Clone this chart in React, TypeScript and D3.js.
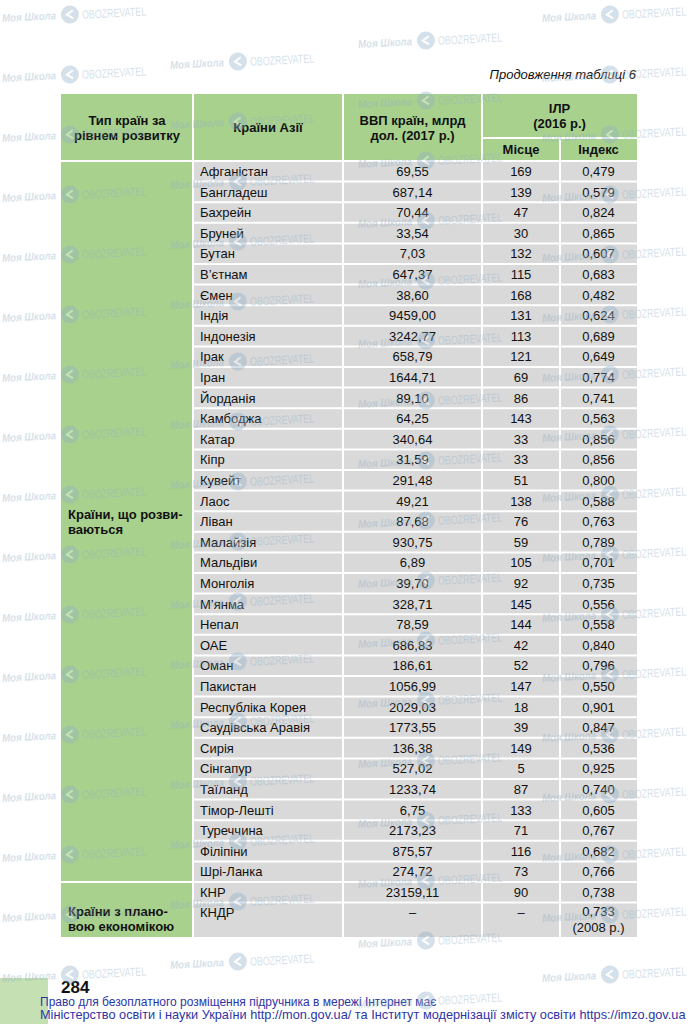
import React from 'react';
import * as d3 from 'd3';

// ---------- DATA ----------
const developingCountries = [
  'Афганістан', 'Бангладеш', 'Бахрейн', 'Бруней', 'Бутан', 'В’єтнам', 'Ємен', 'Індія',
  'Індонезія', 'Ірак', 'Іран', 'Йорданія', 'Камбоджа', 'Катар', 'Кіпр', 'Кувейт', 'Лаос',
  'Ліван', 'Малайзія', 'Мальдіви', 'Монголія', 'М’янма', 'Непал', 'ОАЕ', 'Оман', 'Пакистан',
  'Республіка Корея', 'Саудівська Аравія', 'Сирія', 'Сінгапур', 'Таїланд', 'Тімор-Лешті',
  'Туреччина', 'Філіпіни', 'Шрі-Ланка',
];
const developingGdp = [
  69.55, 687.14, 70.44, 33.54, 7.03, 647.37, 38.6, 9459.0, 3242.77, 658.79, 1644.71, 89.1,
  64.25, 340.64, 31.59, 291.48, 49.21, 87.68, 930.75, 6.89, 39.7, 328.71, 78.59, 686.83,
  186.61, 1056.99, 2029.03, 1773.55, 136.38, 527.02, 1233.74, 6.75, 2173.23, 875.57, 274.72,
];
const developingRank = [
  169, 139, 47, 30, 132, 115, 168, 131, 113, 121, 69, 86, 143, 33, 33, 51, 138, 76, 59, 105,
  92, 145, 144, 42, 52, 147, 18, 39, 149, 5, 87, 133, 71, 116, 73,
];
const developingIndex = [
  0.479, 0.579, 0.824, 0.865, 0.607, 0.683, 0.482, 0.624, 0.689, 0.649, 0.774, 0.741, 0.563,
  0.856, 0.856, 0.8, 0.588, 0.763, 0.789, 0.701, 0.735, 0.556, 0.558, 0.84, 0.796, 0.55, 0.901,
  0.847, 0.536, 0.925, 0.74, 0.605, 0.767, 0.682, 0.766,
];
const plannedCountries = ['КНР', 'КНДР'];
const plannedGdp: (number | null)[] = [23159.11, null];
const plannedRank: (number | null)[] = [90, null];
const plannedIndex = [0.738, 0.733];
const plannedIndexNote = ['', '(2008 р.)'];

const groupLabels = [
  ['Країни, що розви-', 'ваються'],
  ['Країни з плано-', 'вою економікою'],
];
const headerType = ['Тип країн за', 'рівнем розвитку'];
const headerCountries = 'Країни Азії';
const headerGdp = ['ВВП країн, млрд', 'дол. (2017 р.)'];
const headerHdi = ['ІЛР', '(2016 р.)'];
const headerSub = ['Місце', 'Індекс'];
const captionText = 'Продовження таблиці 6';
const pageNumber = '284';
const footerLines = [
  'Право для безоплатного розміщення підручника в мережі Інтернет має',
  'Міністерство освіти і науки України http://mon.gov.ua/ та Інститут модернізації змісту освіти https://imzo.gov.ua',
];

// ---------- LAYOUT ----------
const W = 692;
const H = 1024;
const FONT = '"Liberation Sans", Arial, Helvetica, sans-serif';
const GREEN = '#a9d18e';
const GRAY = '#d9d9d9';
const colEdges = [61, 193, 343, 482, 560, 637];
const headerTop = 94;
const subHeaderY = 138;
const headerBottom = 161;
const devBottom = 882;
const plannedHeights = [20.6, 34.4];

const fmt2 = (v: number | null) => (v == null ? '–' : d3.format('.2f')(v).replace('.', ','));
const fmt3 = (v: number | null) => (v == null ? '–' : d3.format('.3f')(v).replace('.', ','));
const fmtInt = (v: number | null) => (v == null ? '–' : String(v));

function Watermark({ x, y }: { x: number; y: number }) {
  const c = '#8eaec6';
  return (
    <g transform={`translate(${x},${y}) rotate(-3)`} opacity={0.36}>
      <g transform="translate(0,4) scale(0.88,1)">
        <text x={0} y={0} fontSize={11} fontStyle="italic" fontWeight="bold" fill={c} fontFamily={FONT}>Моя Школа</text>
      </g>
      <circle cx={68} cy={0} r={9} fill={c} />
      <path d="M71,-4 L65,0 L71,4" fill="none" stroke="#ffffff" strokeWidth={2} />
      <g transform="translate(80,5) scale(0.74,1)">
        <text x={0} y={0} fontSize={12} fill={c} fontFamily={FONT}>OBOZREVATEL</text>
      </g>
    </g>
  );
}

export default function App() {
  const x = d3.scaleOrdinal<string, number>()
    .domain(['type', 'country', 'gdp', 'rank', 'index', 'end'])
    .range(colEdges);
  const mid = (a: string, b: string) => (x(a) + x(b)) / 2;
  const cxGdp = mid('gdp', 'rank');
  const cxRank = mid('rank', 'index');
  const cxIndex = mid('index', 'end');

  const yDev = d3.scaleBand<number>()
    .domain(d3.range(developingCountries.length))
    .range([headerBottom, devBottom]);
  const plannedCum = Array.from(d3.cumsum(plannedHeights));
  const plannedY = plannedHeights.map((h, i) => devBottom + plannedCum[i] - h);
  const tableBottom = devBottom + plannedCum[plannedCum.length - 1];

  const rowBoundaries: number[] = [];
  developingCountries.forEach((_, i) => {
    if (i > 0) rowBoundaries.push(yDev(i)!);
  });
  rowBoundaries.push(plannedY[1]);

  const textBase = { fontFamily: FONT, fontSize: 13, fill: '#111' } as const;
  const bold = { ...textBase, fontWeight: 'bold' as const };

  const watermarks: { x: number; y: number }[] = [];
  const pushW = (wx: number, wy: number) => {
    if (wy > 12 && wy < 1012) watermarks.push({ x: wx, y: wy });
  };
  for (let k = -1; k < 18; k++) {
    pushW(2, 18 + 60 * k);
    pushW(170, 5 + 60 * k);
    pushW(358, 44 + 60 * k);
    pushW(542, 18 + 60 * k);
  }

  const off = 4.7;

  return (
    <svg width={W} height={H} style={{ position: 'absolute', left: 0, top: 0, display: 'block', background: '#fff' }}>
      <rect x={0} y={0} width={W} height={H} fill="#ffffff" />

      {/* caption */}
      <text x={636} y={79} textAnchor="end" fontStyle="italic" {...textBase}>{captionText}</text>

      {/* backgrounds */}
      <rect x={x('type')} y={headerTop} width={x('end') - x('type')} height={headerBottom - headerTop} fill={GREEN} />
      <rect x={x('type')} y={headerBottom} width={x('country') - x('type')} height={tableBottom - headerBottom} fill={GREEN} />
      <rect x={x('country')} y={headerBottom} width={x('end') - x('country')} height={tableBottom - headerBottom} fill={GRAY} />

      {/* white grid lines */}
      <g stroke="#ffffff" strokeWidth={2}>
        {rowBoundaries.map((yy, i) => (
          <line key={'h' + i} x1={x('country')} x2={x('end')} y1={yy} y2={yy} />
        ))}
        <line x1={x('type')} x2={x('end')} y1={headerBottom} y2={headerBottom} />
        <line x1={x('type')} x2={x('end')} y1={devBottom} y2={devBottom} />
        <line x1={x('rank')} x2={x('end')} y1={subHeaderY} y2={subHeaderY} />
        <line x1={x('country')} x2={x('country')} y1={headerTop} y2={tableBottom} />
        <line x1={x('gdp')} x2={x('gdp')} y1={headerTop} y2={tableBottom} />
        <line x1={x('rank')} x2={x('rank')} y1={headerTop} y2={tableBottom} />
        <line x1={x('index')} x2={x('index')} y1={subHeaderY} y2={tableBottom} />
      </g>

      {/* header text */}
      <g {...bold} textAnchor="middle">
        <text x={mid('type', 'country')} y={125}>{headerType[0]}</text>
        <text x={mid('type', 'country')} y={140}>{headerType[1]}</text>
        <text x={mid('country', 'gdp')} y={132}>{headerCountries}</text>
        <text x={cxGdp} y={125}>{headerGdp[0]}</text>
        <text x={cxGdp} y={140}>{headerGdp[1]}</text>
        <text x={mid('rank', 'end')} y={112.5}>{headerHdi[0]}</text>
        <text x={mid('rank', 'end')} y={127.5}>{headerHdi[1]}</text>
        <text x={cxRank} y={154}>{headerSub[0]}</text>
        <text x={cxIndex} y={154}>{headerSub[1]}</text>
      </g>

      {/* group labels */}
      <g {...bold}>
        <text x={68} y={518.5}>{groupLabels[0][0]}</text>
        <text x={68} y={533.5}>{groupLabels[0][1]}</text>
        <text x={68} y={915.5}>{groupLabels[1][0]}</text>
        <text x={68} y={930.5}>{groupLabels[1][1]}</text>
      </g>

      {/* rows */}
      <g {...textBase}>
        {developingCountries.map((name, i) => {
          const cy = yDev(i)! + yDev.bandwidth() / 2 + off;
          return (
            <g key={name}>
              <text x={x('country') + 7} y={cy}>{name}</text>
              <text x={cxGdp} y={cy} textAnchor="middle">{fmt2(developingGdp[i])}</text>
              <text x={cxRank} y={cy} textAnchor="middle">{fmtInt(developingRank[i])}</text>
              <text x={cxIndex} y={cy} textAnchor="middle">{fmt3(developingIndex[i])}</text>
            </g>
          );
        })}
        {plannedCountries.map((name, i) => {
          const cy = plannedY[i] + 10.3 + off - (i === 1 ? 1 : 0);
          return (
            <g key={name}>
              <text x={x('country') + 7} y={cy}>{name}</text>
              <text x={cxGdp} y={cy} textAnchor="middle">{fmt2(plannedGdp[i])}</text>
              <text x={cxRank} y={cy} textAnchor="middle">{fmtInt(plannedRank[i])}</text>
              <text x={cxIndex} y={cy - (i === 1 ? 1 : 0)} textAnchor="middle">{fmt3(plannedIndex[i])}</text>
              {plannedIndexNote[i] && (
                <text x={cxIndex} y={cy + 15} textAnchor="middle">{plannedIndexNote[i]}</text>
              )}
            </g>
          );
        })}
      </g>

      {/* bottom-left green tab */}
      <rect x={0} y={978} width={48} height={H - 978} fill="#c5e0b3" />

      {/* page number and footer */}
      <text x={61} y={993} fontFamily={FONT} fontSize={17} fontWeight="bold" fill="#111">{pageNumber}</text>
      <g transform="translate(40,1006)">
        <text x={0} y={0} fontFamily={FONT} fontSize={12} fill="#2d35a6">{footerLines[0]}</text>
      </g>
      <g transform="translate(40,1019) scale(1.064,1)">
        <text x={0} y={0} fontFamily={FONT} fontSize={12} fill="#2d35a6">{footerLines[1]}</text>
      </g>

      {/* watermarks */}
      <g>
        {watermarks.map((w, i) => (
          <Watermark key={i} x={w.x} y={w.y} />
        ))}
      </g>
    </svg>
  );
}
